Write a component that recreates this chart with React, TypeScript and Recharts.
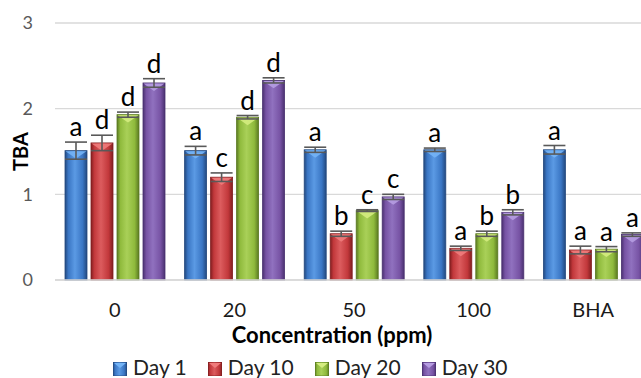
import React from "react";
import {
  Bar,
  BarChart,
  CartesianGrid,
  ErrorBar,
  Label,
  LabelList,
  Legend,
  XAxis,
  YAxis,
} from "recharts";

const categories = ["0", "20", "50", "100", "BHA"];

const day1 = [1.51, 1.51, 1.52, 1.52, 1.52];
const day10 = [1.6, 1.2, 0.54, 0.37, 0.35];
const day20 = [1.93, 1.9, 0.81, 0.54, 0.36];
const day30 = [2.3, 2.33, 0.97, 0.79, 0.53];

const day1Err = [0.1, 0.05, 0.03, 0.02, 0.05];
const day10Err = [0.09, 0.05, 0.03, 0.025, 0.045];
const day20Err = [0.03, 0.02, 0.01, 0.03, 0.03];
const day30Err = [0.05, 0.03, 0.03, 0.03, 0.02];

const day1Letters = ["a", "a", "a", "a", "a"];
const day10Letters = ["d", "c", "b", "a", "a"];
const day20Letters = ["d", "d", "c", "b", "a"];
const day30Letters = ["d", "d", "c", "b", "a"];

const yTicks = [0, 1, 2, 3];

// bevel colours, Excel-ish
const PALETTE = {
  day1: { dark: "#23497f", base: "#3a76c4", light: "#5b9ae4", top: "#74b4f6" },
  day10: { dark: "#821e20", base: "#c2383b", light: "#dc5c5e", top: "#f07c7c" },
  day20: { dark: "#5b7a22", base: "#8fba3c", light: "#a9d058", top: "#d4ec80" },
  day30: { dark: "#4a3170", base: "#7753a4", light: "#9071bf", top: "#b69de2" },
};

const series = [
  { key: "day1", name: "Day 1", values: day1, errs: day1Err, letters: day1Letters },
  { key: "day10", name: "Day 10", values: day10, errs: day10Err, letters: day10Letters },
  { key: "day20", name: "Day 20", values: day20, errs: day20Err, letters: day20Letters },
  { key: "day30", name: "Day 30", values: day30, errs: day30Err, letters: day30Letters },
] as const;

const data = categories.map((name, i) => {
  const row: Record<string, string | number> = { name };
  series.forEach((s) => {
    row[s.key] = s.values[i];
    row[`${s.key}Err`] = s.errs[i];
    row[`${s.key}Letter`] = s.letters[i];
  });
  return row;
});

const FONT = "Lato, 'Open Sans', sans-serif";

const bevelShape = (key: keyof typeof PALETTE) => (props: any) => {
  const { x, y, width, height } = props;
  if (!height || height <= 0) return <g />;
  const pal = PALETTE[key];
  const tri = Math.min(width * 0.36, height);
  return (
    <g>
      <rect
        x={x}
        y={y}
        width={width}
        height={height}
        fill={`url(#grad-${key})`}
        stroke={pal.dark}
        strokeWidth={0.8}
      />
      <polygon
        points={`${x + 0.5},${y + 0.5} ${x + width - 0.5},${y + 0.5} ${x + width / 2},${y + tri}`}
        fill={pal.top}
        opacity={0.9}
      />
    </g>
  );
};

const letterLabel = (idx: number) => (props: any) => {
  const s = series[idx];
  const { x, y, width, height, index, value } = props;
  const v = s.values[index];
  const e = s.errs[index];
  const pxPerUnit = Number(height) / v;
  const ty = Number(y) - e * pxPerUnit - 6;
  return (
    <text
      x={Number(x) + Number(width) / 2}
      y={ty}
      textAnchor="middle"
      fontSize={26}
      fontFamily={FONT}
      fill="#000"
    >
      {value}
    </text>
  );
};

const LegendIcon = ({ k }: { k: keyof typeof PALETTE }) => (
  <svg width={14} height={14} style={{ marginTop: 4, marginRight: 6, flex: "none" }}>
    <rect x={0} y={0} width={14} height={14} fill={`url(#grad-${k})`} stroke={PALETTE[k].dark} strokeWidth={0.8} />
    <polygon points="1,1 13,1 7,6" fill={PALETTE[k].top} />
  </svg>
);

const renderLegend = () => (
  <div style={{ display: "flex", alignItems: "center", fontFamily: FONT, fontSize: 21, lineHeight: "24px", color: "#222" }}>
    {series.map((s) => (
      <div key={s.key} style={{ display: "flex", alignItems: "center", marginRight: 21 }}>
        <LegendIcon k={s.key} />
        <span>{s.name}</span>
      </div>
    ))}
  </div>
);

export default function App() {
  return (
    <div
      style={{
        position: "fixed",
        left: 0,
        top: 0,
        width: 641,
        height: 378,
        overflow: "hidden",
        background: "#fff",
        fontFamily: FONT,
      }}
    >
      <BarChart
        width={680}
        height={378}
        data={data}
        margin={{ top: 23, right: 27, left: 0, bottom: 0 }}
        barSize={22}
        barGap={4}
      >
        <defs>
          {series.map((s) => {
            const p = PALETTE[s.key];
            return (
              <linearGradient key={s.key} id={`grad-${s.key}`} x1="0" y1="0" x2="1" y2="0">
                <stop offset="0%" stopColor={p.dark} />
                <stop offset="15%" stopColor={p.base} />
                <stop offset="45%" stopColor={p.light} />
                <stop offset="80%" stopColor={p.base} />
                <stop offset="100%" stopColor={p.dark} />
              </linearGradient>
            );
          })}
        </defs>
        <CartesianGrid vertical={false} stroke="#d9d9d9" strokeWidth={1.4} />
        <XAxis
          dataKey="name"
          height={74}
          tickLine={false}
          tickSize={0}
          tickMargin={23}
          axisLine={{ stroke: "#d9d9d9", strokeWidth: 1.6 }}
          tick={{ fill: "#1a1a1a", fontSize: 20, fontFamily: FONT }}
        >
          <Label
            value="Concentration (ppm)"
            position="insideBottom"
            offset={11}
            dx={-22}
            style={{ fontWeight: 700, fontSize: 22, fill: "#000", fontFamily: FONT }}
          />
        </XAxis>
        <YAxis
          width={55}
          domain={[0, 3]}
          ticks={yTicks}
          axisLine={false}
          tickLine={false}
          tickSize={0}
          tickMargin={22}
          tick={{ fill: "#595959", fontSize: 18, fontFamily: FONT }}
        >
          <Label
            value="TBA"
            angle={-90}
            position="center"
            dx={-6.5}
            style={{ fontWeight: 700, fontSize: 20, fill: "#000", fontFamily: FONT }}
          />
        </YAxis>
        <Legend
          verticalAlign="bottom"
          align="left"
          content={renderLegend}
          wrapperStyle={{ left: 113, top: 355, height: 24, width: 480 }}
        />
        {series.map((s, i) => (
          <Bar
            key={s.key}
            dataKey={s.key}
            name={s.name}
            fill={PALETTE[s.key].base}
            shape={bevelShape(s.key)}
            isAnimationActive={false}
          >
            <ErrorBar
              dataKey={`${s.key}Err`}
              width={11}
              strokeWidth={1.6}
              stroke="#595959"
              direction="y"
              isAnimationActive={false}
            />
            <LabelList dataKey={`${s.key}Letter`} content={letterLabel(i)} />
          </Bar>
        ))}
      </BarChart>
    </div>
  );
}
